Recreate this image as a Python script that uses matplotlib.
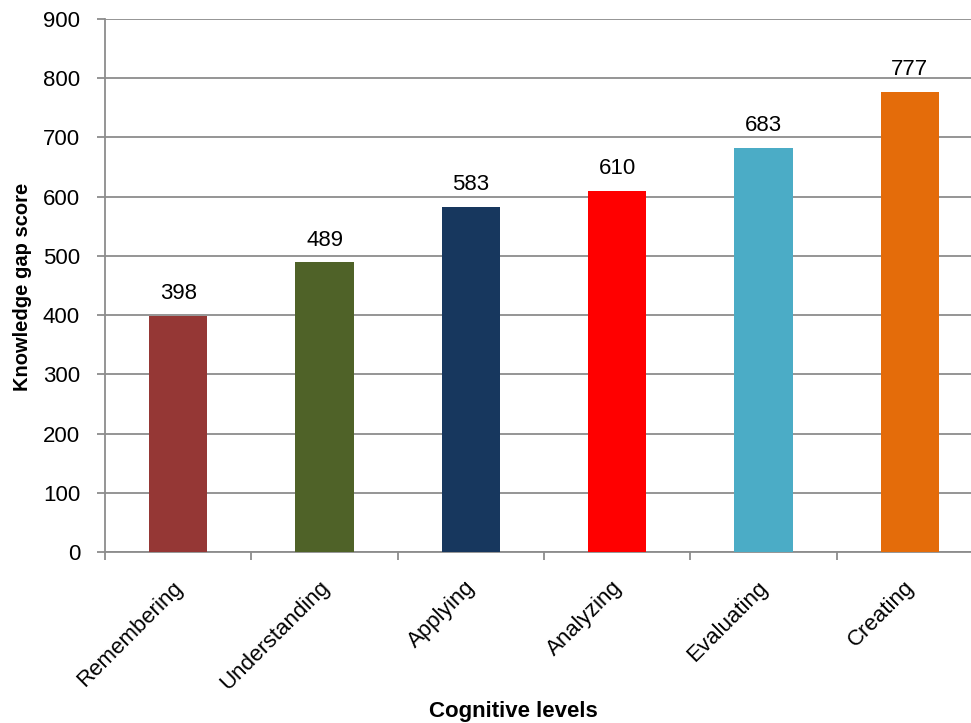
import numpy as np
import matplotlib.pyplot as plt
from matplotlib.transforms import ScaledTranslation

plt.rcParams['font.family'] = ['Liberation Sans', 'DejaVu Sans']

# Datos
levels = ['Remembering', 'Understanding', 'Applying', 'Analyzing', 'Evaluating', 'Creating']
scores = [398, 489, 583, 610, 683, 777]
colors = ['#953735', '#4F6228', '#17375E', '#FF0000', '#4BACC6', '#E46C0A']

fs = 16

fig = plt.figure(figsize=(9.71, 7.23), dpi=100)
# el eje se sale un poco por la derecha, como en el original
ax = fig.add_axes([105 / 971, 1 - 552 / 723, 878 / 971, 533 / 723])

x = np.arange(len(levels))
ax.bar(x, scores, width=0.4, color=colors, zorder=3)

for xi, v in zip(x, scores):
    ax.text(xi, v + 20, str(v), ha='center', va='bottom', fontsize=fs, color='black')

ax.set_xlim(-0.5, len(levels) - 0.5)
ax.set_ylim(0, 900)
ax.set_yticks(np.arange(0, 901, 100))
ax.yaxis.grid(True, color='#8c8c8c', linewidth=1.3, zorder=0)

ax.set_xticks(x)
ax.set_xticklabels(levels, rotation=45, ha='right', rotation_mode='anchor', fontsize=fs)
ax.set_xticks(np.arange(-0.5, len(levels), 1), minor=True)
ax.tick_params(axis='x', which='major', length=0, pad=18)
ax.tick_params(axis='x', which='minor', length=6, width=1.3, color='#8c8c8c')
ax.tick_params(axis='y', length=6, width=1.3, color='#8c8c8c', labelsize=fs, pad=12)

# mover un poco las etiquetas a la izquierda
shift = ScaledTranslation(-6 / 100, 0, fig.dpi_scale_trans)
for lbl in ax.get_xticklabels():
    lbl.set_transform(lbl.get_transform() + shift)

for s in ['top', 'right']:
    ax.spines[s].set_visible(False)
for s in ['left', 'bottom']:
    ax.spines[s].set_color('#8c8c8c')
    ax.spines[s].set_linewidth(1.3)

fig.text(23 / 971, 1 - 287 / 723, 'Knowledge gap score', rotation=90, ha='center', va='center',
         fontsize=14.5, fontweight='bold')
fig.text(513 / 971, 1 - 711 / 723, 'Cognitive levels', ha='center', va='center',
         fontsize=fs, fontweight='bold')

fig.savefig('out.png', dpi=100)
